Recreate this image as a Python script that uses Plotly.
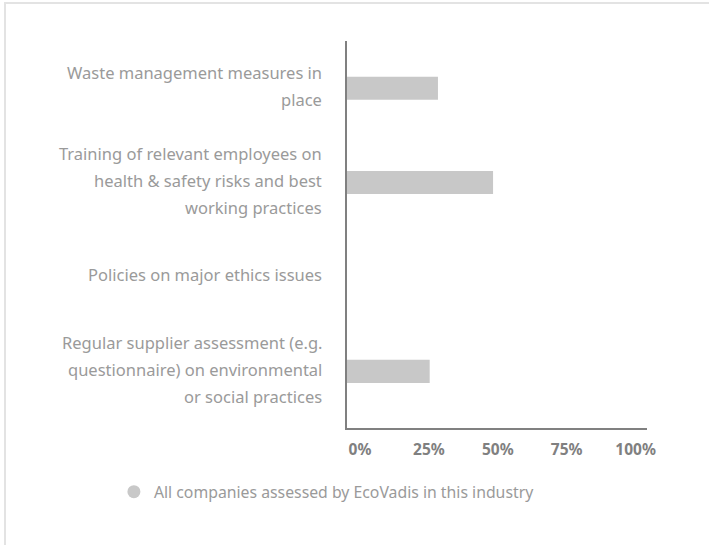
import plotly.graph_objects as go

categories = [
    "Waste management measures in place",
    "Training of relevant employees on health & safety risks and best working practices",
    "Policies on major ethics issues",
    "Regular supplier assessment (e.g. questionnaire) on environmental or social practices",
]
label_lines = [
    ["Waste management measures in", "place"],
    ["Training of relevant employees on", "health & safety risks and best", "working practices"],
    ["Policies on major ethics issues"],
    ["Regular supplier assessment (e.g.", "questionnaire) on environmental", "or social practices"],
]
industry_values = [33, 53, 0, 30]
tick_values = [0, 25, 50, 75, 100]
tick_labels = ["0%", "25%", "50%", "75%", "100%"]
series_name = "All companies assessed by EcoVadis in this industry"

BAR = "#c8c8c8"
AXIS = "#808080"
TEXT = "#9a9a9a"
FONT = "Noto Sans"

fig = go.Figure()
fig.add_trace(go.Bar(
    y=categories, x=industry_values, orientation="h",
    marker=dict(color=BAR, line=dict(width=0)),
    width=0.244, showlegend=False, hoverinfo="x+y",
))
fig.add_trace(go.Scatter(
    x=[None], y=[None], mode="markers", name=series_name,
    marker=dict(symbol="circle", size=13, color=BAR),
    showlegend=True,
))

annotations = []
for cat, lines in zip(categories, label_lines):
    n = len(lines)
    for j, line in enumerate(lines):
        annotations.append(dict(
            text=line, xref="paper", x=0, xshift=-23, xanchor="right",
            yref="y", y=cat, yshift=((n - 1) / 2 - j) * 27 + 2, yanchor="middle",
            showarrow=False, font=dict(family=FONT, size=16.5, color=TEXT),
        ))

fig.update_layout(
    width=709, height=545,
    margin=dict(l=347, r=62, t=41, b=117),
    paper_bgcolor="white", plot_bgcolor="white",
    font=dict(family=FONT, size=16, color=TEXT),
    annotations=annotations,
    showlegend=True,
    legend=dict(
        orientation="h", x=-0.777, xanchor="left", y=-0.165, yanchor="middle",
        font=dict(family=FONT, size=15.8, color=TEXT),
    ),
    xaxis=dict(
        range=[0, 108.85], tickvals=tick_values, ticktext=tick_labels,
        showgrid=False, zeroline=False, showline=True, linecolor=AXIS, linewidth=2,
        ticks="", tickfont=dict(family=FONT, size=15.5, color=AXIS, weight="bold"),
        ticklabelshift=13, ticklabelstandoff=6, fixedrange=True,
    ),
    yaxis=dict(
        type="category", categoryorder="array", categoryarray=categories,
        range=[3.6, -0.5], showticklabels=False, ticks="",
        showgrid=False, zeroline=False, showline=True, linecolor=AXIS, linewidth=2,
        fixedrange=True,
    ),
    shapes=[dict(
        type="rect", xref="paper", yref="paper",
        x0=-1.14, x1=2.0, y0=-2.0, y1=1.098,
        line=dict(color="#e3e3e3", width=2), fillcolor="rgba(0,0,0,0)", layer="below",
    )],
)

fig.write_html("out.html")
